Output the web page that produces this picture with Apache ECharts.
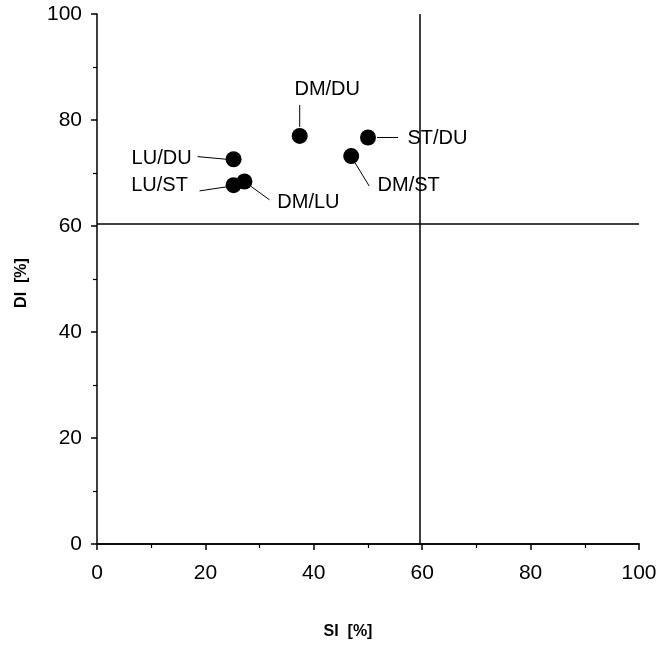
<!DOCTYPE html>
<html>
<head>
<meta charset="utf-8">
<script src="https://cdn.jsdelivr.net/npm/echarts@6/dist/echarts.min.js"></script>
<style>
html, body { margin: 0; padding: 0; background: #fff; }
#chart { width: 672px; height: 669px; }
</style>
</head>
<body>
<div id="chart"></div>
<script>
// pair indices: SI (x) and DI (y), in percent
var pairNames = ['DM/DU', 'ST/DU', 'LU/DU', 'DM/ST', 'LU/ST', 'DM/LU'];
var siValues = [37.4, 50.0, 25.2, 46.9, 25.2, 27.2];
var diValues = [77.0, 76.7, 72.6, 73.2, 67.7, 68.4];
var siCut = 59.5;
var diCut = 60.5;

// where each label sits, in pixels from its dot:
// text centre x, y, leader start x, y, leader end x, y
var labelPos = [
    [27.5, -46, 0, -9, 0, -31],
    [69.5, 1, 9, 0, 30, 0],
    [-72, -1, -7.5, 0, -36, -2.6],
    [57.5, 29, 4, 7, 18, 30],
    [-74, 0, -7.3, 1.7, -34, 5.7],
    [64, 21.5, 6.7, 5, 25, 18.3]
];

var points = siValues.map(function (v, i) { return [v, diValues[i]]; });

var chartDom = document.getElementById('chart');
var myChart = echarts.init(chartDom);

var tickFont = { color: '#000', fontSize: 21, fontFamily: '"Liberation Sans", Arial, sans-serif' };
var nameFont = { color: '#000', fontSize: 16, fontWeight: 'bold', fontFamily: '"Liberation Sans", Arial, sans-serif' };
var blackLine = { color: '#000', width: 1.5 };

var option = {
    backgroundColor: '#fff',
    animation: false,
    grid: { left: 97, right: 33, top: 14, bottom: 125 },
    xAxis: [{
        type: 'value',
        min: 0, max: 100, interval: 20,
        name: 'SI  [%]',
        nameLocation: 'middle',
        nameGap: 80,
        nameTextStyle: Object.assign({ padding: [0, 40, 0, 0] }, nameFont),
        axisLine: { show: true, onZero: false, lineStyle: blackLine },
        axisTick: { show: true, inside: false, length: 6, lineStyle: blackLine },
        minorTick: { show: true, splitNumber: 2, length: 4, lineStyle: { color: '#000', width: 1.2 } },
        axisLabel: Object.assign({ margin: 19 }, tickFont),
        splitLine: { show: false }
    }, {
        type: 'value',
        position: 'top',
        min: 0, max: 100,
        axisLine: { show: true, lineStyle: blackLine },
        axisTick: { show: false },
        axisLabel: { show: false },
        splitLine: { show: false }
    }],
    yAxis: {
        type: 'value',
        min: 0, max: 100, interval: 20,
        name: 'DI  [%]',
        nameLocation: 'middle',
        nameGap: 67,
        nameRotate: 90,
        nameTextStyle: Object.assign({ padding: [0, 8, 0, 0] }, nameFont),
        axisLine: { show: true, onZero: false, lineStyle: blackLine },
        axisTick: { show: true, inside: false, length: 6, lineStyle: blackLine },
        minorTick: { show: true, splitNumber: 2, length: 4, lineStyle: { color: '#000', width: 1.2 } },
        axisLabel: Object.assign({ margin: 15 }, tickFont),
        splitLine: { show: false }
    },
    series: [{
        type: 'scatter',
        data: points,
        symbol: 'circle',
        symbolSize: 16,
        itemStyle: { color: '#000', opacity: 1 },
        z: 4,
        markLine: {
            silent: true,
            symbol: ['none', 'none'],
            label: { show: false },
            lineStyle: { color: '#000', type: 'solid', width: 1.5 },
            data: [{ xAxis: siCut }, { yAxis: diCut }]
        }
    }, {
        type: 'custom',
        data: points,
        z: 5,
        renderItem: function (params, api) {
            var p = api.coord([api.value(0), api.value(1)]);
            var o = labelPos[params.dataIndex];
            return {
                type: 'group',
                children: [{
                    type: 'line',
                    shape: { x1: p[0] + o[2], y1: p[1] + o[3], x2: p[0] + o[4], y2: p[1] + o[5] },
                    style: { stroke: '#000', lineWidth: 1 }
                }, {
                    type: 'text',
                    x: p[0] + o[0],
                    y: p[1] + o[1],
                    style: {
                        text: pairNames[params.dataIndex],
                        fill: '#000',
                        font: '20px "Liberation Sans", Arial, sans-serif',
                        align: 'center',
                        verticalAlign: 'middle'
                    }
                }]
            };
        }
    }]
};

myChart.setOption(option);

window.addEventListener('resize', function () {
    myChart.resize();
});
</script>
</body>
</html>
